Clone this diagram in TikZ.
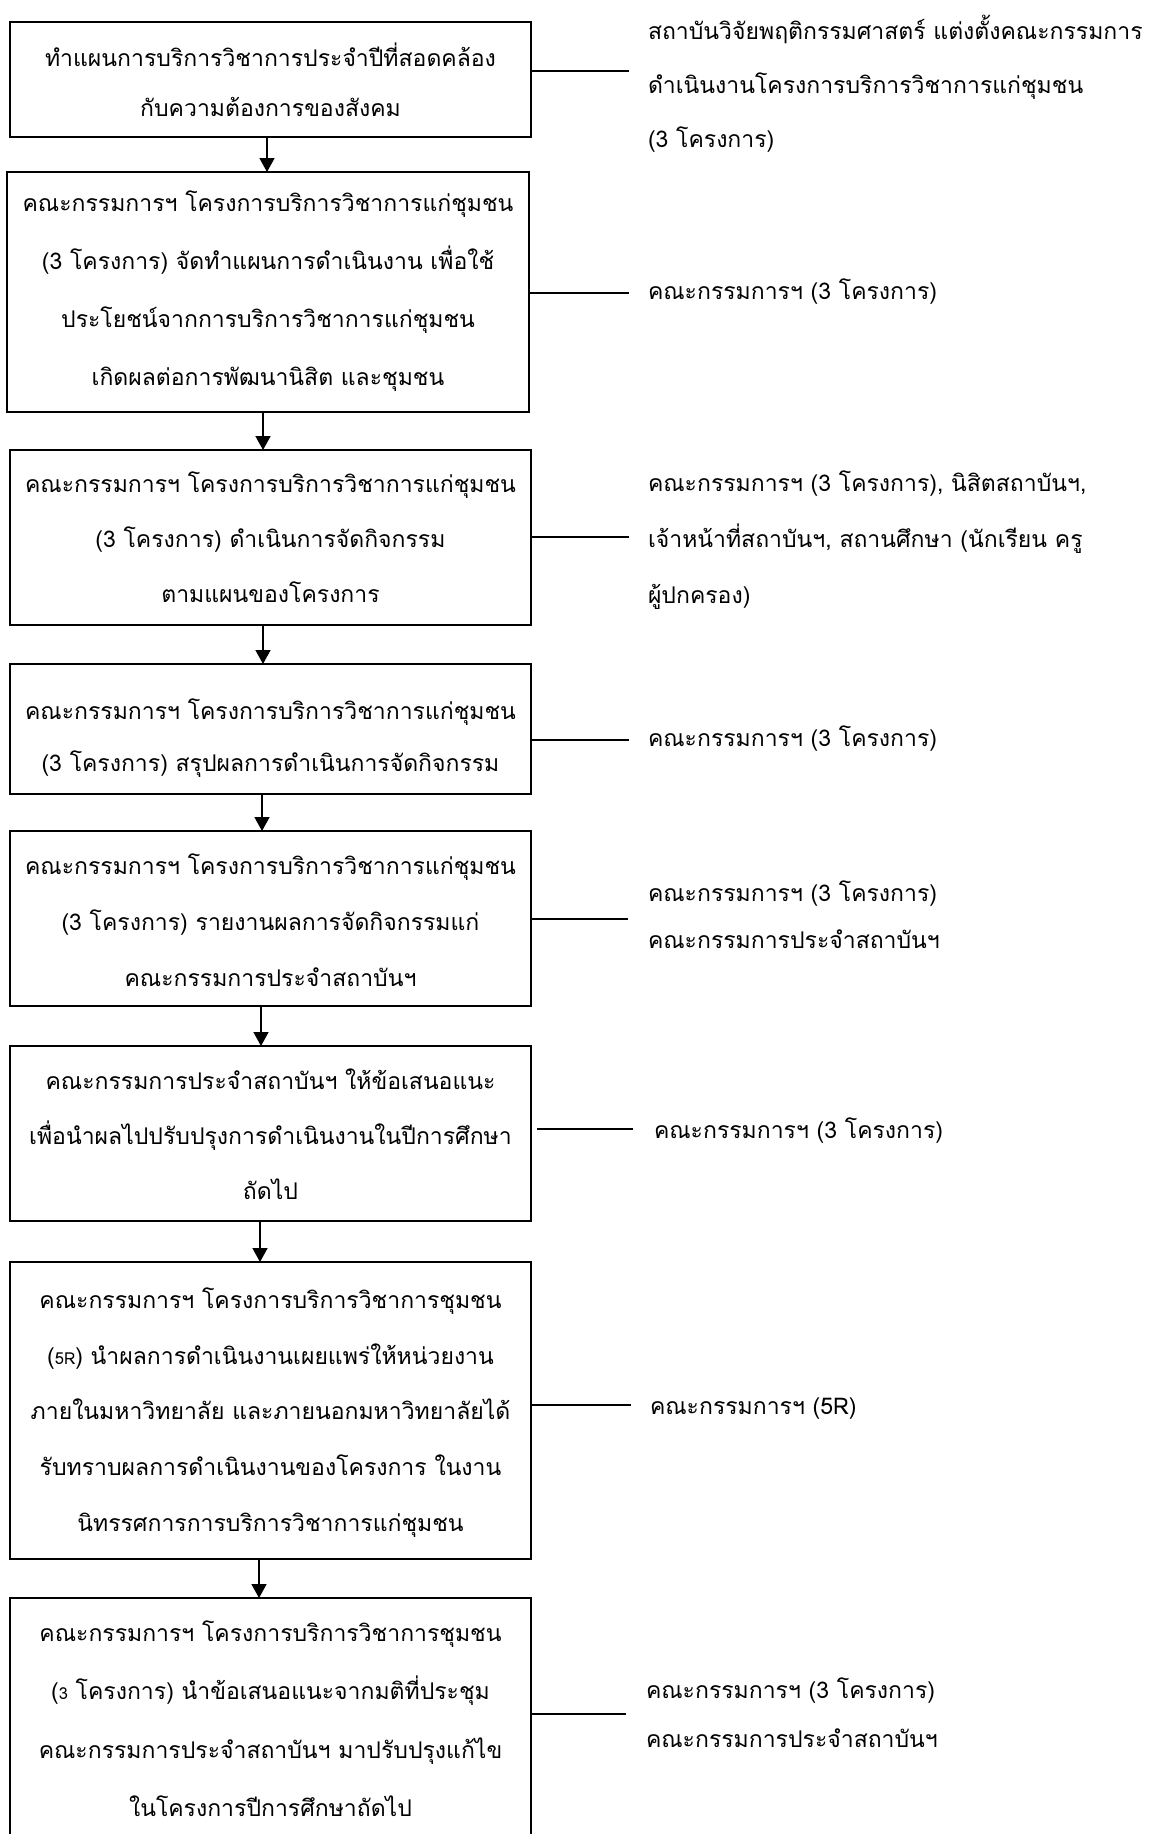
\documentclass[tikz,border=0pt]{standalone}
\usepackage{fontspec}
\newfontfamily\thaifont[Script=Thai]{Loma}
\usetikzlibrary{arrows.meta}
\newcommand\QS[1]{\rule[-\dimexpr#1/2-9pt\relax]{0pt}{#1}}
\newcommand\Z{\QS{\lsp}}
\newcommand\smallnum[1]{{\fontsize{16.5}{16.5}\selectfont #1}}
\newcommand\setlsp[1]{\def\lsp{#1}\setlength\baselineskip{#1}\setlength\lineskip{0pt}\setlength\lineskiplimit{0pt}}
\tikzset{
  every node/.style={inner sep=0pt, outer sep=0pt},
  box/.style={draw, line width=1.5pt, rectangle},
  tfont/.style={font={\thaifont\fontsize{23}{23}\selectfont}},
  btxt/.style={tfont, align=center, execute at begin node={\setlsp{#1}}},
  rtxt/.style={tfont, align=left, anchor=west, execute at begin node={\setlsp{#1}}},
  conn/.style={line width=1.6pt},
  arr/.style={line width=1.6pt, -{Triangle[length=14pt,width=15pt]}}
}
\begin{document}
\begin{tikzpicture}[x=1pt,y=-1pt]
\useasboundingbox (0,0) rectangle (1150,1834);
\fill[white] (0,0) rectangle (1150,1834);
\clip (0,0) rectangle (1150,1834);

% boxes
\node[box, minimum width=521pt, minimum height=115pt] (b1) at (270.5,79.5) {};
\node[box, minimum width=522pt, minimum height=240pt] (b2) at (268,292) {};
\node[box, minimum width=521pt, minimum height=175pt] (b3) at (270.5,537.5) {};
\node[box, minimum width=521pt, minimum height=130pt] (b4) at (270.5,729) {};
\node[box, minimum width=521pt, minimum height=175pt] (b5) at (270.5,918.5) {};
\node[box, minimum width=521pt, minimum height=175pt] (b6) at (270.5,1133.5) {};
\node[box, minimum width=521pt, minimum height=297pt] (b7) at (270.5,1410.5) {};
\node[box, minimum width=521pt, minimum height=264pt] (b8) at (270.5,1730) {};

% box texts
\node[btxt=50pt] (t1) at (270.5,82.2) {\Z ทำแผนการบริการวิชาการประจำปีที่สอดคล้อง\\ \Z กับความต้องการของสังคม};
\node[btxt=58pt] (t2) at (268,289.3) {\Z คณะกรรมการฯ โครงการบริการวิชาการแก่ชุมชน\\ \Z (3 โครงการ) จัดทำแผนการดำเนินงาน เพื่อใช้\\ \Z ประโยชน์จากการบริการวิชาการแก่ชุมชน\\ \Z เกิดผลต่อการพัฒนานิสิต และชุมชน};
\node[btxt=55pt] (t3) at (270.5,538.2) {\Z คณะกรรมการฯ โครงการบริการวิชาการแก่ชุมชน\\ \Z (3 โครงการ) ดำเนินการจัดกิจกรรม\\ \Z ตามแผนของโครงการ};
\node[btxt=51.5pt] (t4) at (270.5,736.4) {\Z คณะกรรมการฯ โครงการบริการวิชาการแก่ชุมชน\\ \Z (3 โครงการ) สรุปผลการดำเนินการจัดกิจกรรม};
\node[btxt=56pt] (t5) at (270.5,921.3) {\Z คณะกรรมการฯ โครงการบริการวิชาการแก่ชุมชน\\ \Z (3 โครงการ) รายงานผลการจัดกิจกรรมแก่\\ \Z คณะกรรมการประจำสถาบันฯ};
\node[btxt=55pt] (t6) at (270.5,1135.3) {\Z คณะกรรมการประจำสถาบันฯ ให้ข้อเสนอแนะ\\ \Z เพื่อนำผลไปปรับปรุงการดำเนินงานในปีการศึกษา\\ \Z ถัดไป};
\node[btxt=55.6pt] (t7) at (270.5,1410.8) {\Z คณะกรรมการฯ โครงการบริการวิชาการชุมชน\\ \Z (\smallnum{5R}) นำผลการดำเนินงานเผยแพร่ให้หน่วยงาน\\ \Z ภายในมหาวิทยาลัย และภายนอกมหาวิทยาลัยได้\\ \Z รับทราบผลการดำเนินงานของโครงการ ในงาน\\ \Z นิทรรศการการบริการวิชาการแก่ชุมชน};
\node[btxt=58.5pt] (t8) at (270.5,1720) {\Z คณะกรรมการฯ โครงการบริการวิชาการชุมชน\\ \Z (\smallnum{3} โครงการ) นำข้อเสนอแนะจากมติที่ประชุม\\ \Z คณะกรรมการประจำสถาบันฯ มาปรับปรุงแก้ไข\\ \Z ในโครงการปีการศึกษาถัดไป};

% right texts
\node[rtxt=54pt] (r1) at (648,84.7) {\Z สถาบันวิจัยพฤติกรรมศาสตร์ แต่งตั้งคณะกรรมการ\\ \Z ดำเนินงานโครงการบริการวิชาการแก่ชุมชน\\ \Z (3 โครงการ)};
\node[rtxt=56pt] (r2) at (648,290) {\Z คณะกรรมการฯ (3 โครงการ)};
\node[rtxt=56pt] (r3) at (648,538) {\Z คณะกรรมการฯ (3 โครงการ), นิสิตสถาบันฯ,\\ \Z เจ้าหน้าที่สถาบันฯ, สถานศึกษา (นักเรียน ครู\\ \Z ผู้ปกครอง)};
\node[rtxt=56pt] (r4) at (648,737.5) {\Z คณะกรรมการฯ (3 โครงการ)};
\node[rtxt=47pt] (r5) at (648,915.5) {\Z คณะกรรมการฯ (3 โครงการ)\\ \Z คณะกรรมการประจำสถาบันฯ};
\node[rtxt=56pt] (r6) at (654,1129.5) {\Z คณะกรรมการฯ (3 โครงการ)};
\node[rtxt=56pt] (r7) at (650,1405.5) {\Z คณะกรรมการฯ (5R)};
\node[rtxt=49pt] (r8) at (646,1714) {\Z คณะกรรมการฯ (3 โครงการ)\\ \Z คณะกรรมการประจำสถาบันฯ};

% side connectors
\coordinate (e1) at (629,71);
\coordinate (e2) at (629,293);
\coordinate (e3) at (629,537);
\coordinate (e4) at (629,740);
\coordinate (e5) at (628,919);
\coordinate (e6) at (633,1129);
\coordinate (e7) at (631,1405);
\coordinate (e8) at (626,1714);
\draw[conn] (b1.east |- e1) -- (e1);
\draw[conn] (b2.east |- e2) -- (e2);
\draw[conn] (b3.east |- e3) -- (e3);
\draw[conn] (b4.east |- e4) -- (e4);
\draw[conn] (b5.east |- e5) -- (e5);
\draw[conn] ([xshift=6pt]b6.east |- e6) -- (e6);
\draw[conn] (b7.east |- e7) -- (e7);
\draw[conn] (b8.east |- e8) -- (e8);

% arrows
\coordinate (a1) at (267,0);
\coordinate (a2) at (263,0);
\coordinate (a3) at (263,0);
\coordinate (a4) at (262,0);
\coordinate (a5) at (261,0);
\coordinate (a6) at (260,0);
\coordinate (a7) at (259,0);
\draw[arr] (b1.south -| a1) -- (b2.north -| a1);
\draw[arr] (b2.south -| a2) -- (b3.north -| a2);
\draw[arr] (b3.south -| a3) -- (b4.north -| a3);
\draw[arr] (b4.south -| a4) -- (b5.north -| a4);
\draw[arr] (b5.south -| a5) -- (b6.north -| a5);
\draw[arr] (b6.south -| a6) -- (b7.north -| a6);
\draw[arr] (b7.south -| a7) -- (b8.north -| a7);
\end{tikzpicture}
\end{document}
